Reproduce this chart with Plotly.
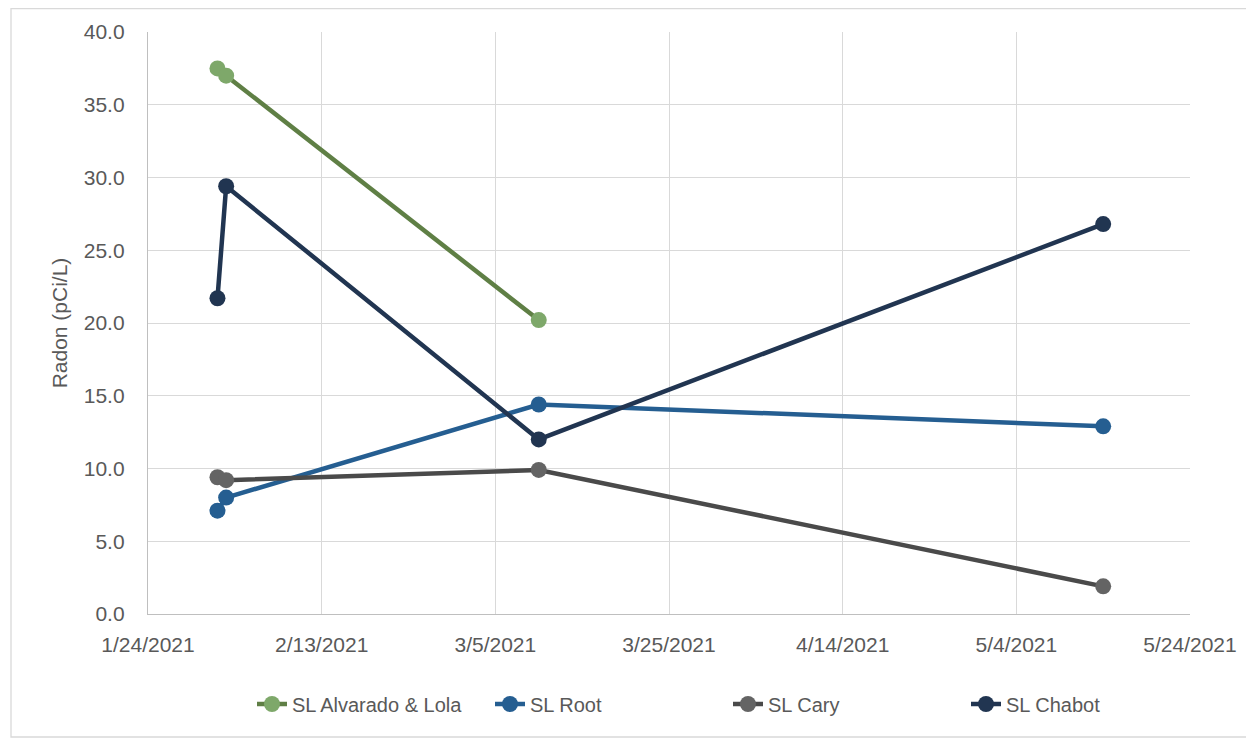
import plotly.graph_objects as go

alvarado_dates = ["2021-02-01", "2021-02-02", "2021-03-10"]
alvarado_vals = [37.5, 37.0, 20.2]
root_dates = ["2021-02-01", "2021-02-02", "2021-03-10", "2021-05-14"]
root_vals = [7.1, 8.0, 14.4, 12.9]
cary_dates = ["2021-02-01", "2021-02-02", "2021-03-10", "2021-05-14"]
cary_vals = [9.4, 9.2, 9.9, 1.9]
chabot_dates = ["2021-02-01", "2021-02-02", "2021-03-10", "2021-05-14"]
chabot_vals = [21.7, 29.4, 12.0, 26.8]

series = [
    ("SL Alvarado & Lola", alvarado_dates, alvarado_vals, "#5f7f45", "#7ea86a"),
    ("SL Root", root_dates, root_vals, "#255e91", "#255e91"),
    ("SL Cary", cary_dates, cary_vals, "#4a4a4a", "#646464"),
    ("SL Chabot", chabot_dates, chabot_vals, "#213551", "#213551"),
]

fig = go.Figure()
for name, d, v, lc, mc in series:
    fig.add_trace(go.Scatter(
        x=d, y=v, name=name, mode="lines+markers",
        line=dict(color=lc, width=4.5),
        marker=dict(color=mc, size=16),
    ))

# page is offset by the 8px body margin
OFF = 8
W, H = 1254 - OFF, 738 - OFF
L, R, T, B = 148 - OFF, 1254 - 1190, 32 - OFF, 738 - 614
pw, ph = W - L - R, H - T - B

def px(x):
    return (x - OFF - L) / pw

def py(y):
    return (H - B - (y - OFF)) / ph

FONT = "Liberation Sans, Arial, sans-serif"
GREY = "#595959"

fig.update_layout(
    width=W, height=H,
    margin=dict(l=L, r=R, t=T, b=B),
    paper_bgcolor="white", plot_bgcolor="white",
    font=dict(family=FONT, color=GREY, size=20),
    xaxis=dict(
        type="date",
        range=["2021-01-24", "2021-05-24"],
        tick0="2021-01-24", dtick=20 * 86400000,
        tickformat="%-m/%-d/%Y",
        showgrid=True, gridcolor="#d9d9d9", gridwidth=1.3,
        showline=True, linecolor="#bfbfbf", linewidth=1.3,
        ticks="", ticklabelstandoff=12,
        tickfont=dict(size=21, family=FONT, color=GREY),
        zeroline=False,
    ),
    yaxis=dict(
        range=[0, 40], dtick=5, tickformat=".1f",
        showgrid=True, gridcolor="#d9d9d9", gridwidth=1.3,
        showline=True, linecolor="#bfbfbf", linewidth=1.3,
        ticks="", ticklabelstandoff=18,
        tickfont=dict(size=21, family=FONT, color=GREY),
        title=dict(text="Radon (pCi/L)", font=dict(size=21, family=FONT, color=GREY), standoff=10),
        zeroline=False,
    ),
    legend=dict(
        orientation="h", x=px(252), xanchor="left", y=py(704), yanchor="middle",
        entrywidth=193, entrywidthmode="pixels",
        font=dict(size=20, family=FONT, color=GREY),
        bgcolor="rgba(0,0,0,0)",
    ),
    shapes=[dict(
        type="rect", xref="paper", yref="paper",
        x0=px(11), x1=px(1252), y0=py(737), y1=(H - B - 0.5) / ph,
        line=dict(color="#d9d9d9", width=1.3), fillcolor="rgba(0,0,0,0)", layer="below",
    )],
)

fig.write_html("out.html")
